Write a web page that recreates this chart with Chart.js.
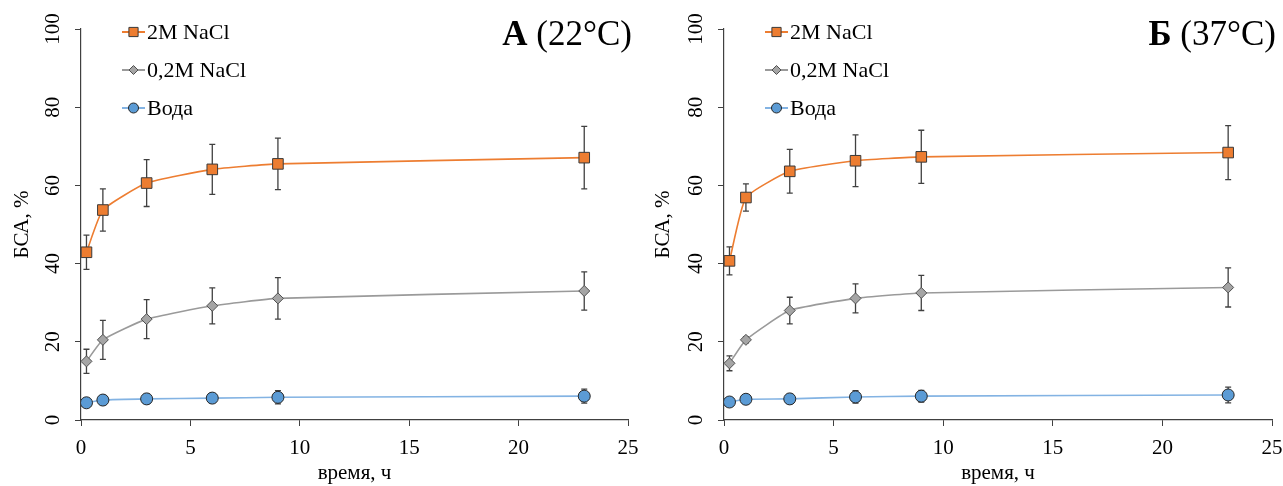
<!DOCTYPE html>
<html lang="ru">
<head>
<meta charset="utf-8">
<title>БСА, %</title>
<script src="https://cdn.jsdelivr.net/npm/chart.js@4.4.1/dist/chart.umd.min.js"></script>
<style>
	html, body { margin: 0; padding: 0; background: #fff; }
	.row { display: flex; width: 1283px; height: 486px; }
	canvas { display: block; }
</style>
</head>
<body>
<div class="row">
	<canvas id="chart_a" width="641" height="486"></canvas>
	<canvas id="chart_b" width="642" height="486"></canvas>
</div>
<script>
// time points, h
const hours = [0.25, 1, 3, 6, 9, 23];
const seriesNames = ['2M NaCl', '0,2M NaCl', 'Вода'];

// А (22°C): mean and error
const salt2A = [42.9, 53.7, 60.6, 64.1, 65.5, 67.1];
const salt2AErr = [4.4, 5.4, 6.0, 6.4, 6.6, 8.0];
const salt02A = [15.0, 20.5, 25.8, 29.2, 31.1, 33.0];
const salt02AErr = [3.1, 5.0, 5.0, 4.6, 5.3, 4.9];
const waterA = [4.4, 5.1, 5.4, 5.6, 5.8, 6.1];
const waterAErr = [1.0, 1.2, 1.2, 1.2, 1.7, 1.8];

// Б (37°C)
const salt2B = [40.7, 56.9, 63.6, 66.3, 67.3, 68.4];
const salt2BErr = [3.6, 3.5, 5.6, 6.6, 6.8, 6.9];
const salt02B = [14.5, 20.5, 28.0, 31.1, 32.5, 33.9];
const salt02BErr = [1.9, 0.8, 3.4, 3.7, 4.5, 5.0];
const waterB = [4.6, 5.3, 5.4, 5.9, 6.1, 6.4];
const waterBErr = [1.0, 1.2, 1.2, 1.6, 1.5, 2.0];

const FONT = '"Liberation Serif", "Times New Roman", serif';
const AXIS_COLOR = '#404040';

Chart.defaults.font.family = FONT;
Chart.defaults.color = '#000';

const styles = [
	{ line: '#ED7D31', fill: '#ED7D31', border: '#3a3a3a', pointStyle: 'rect', radius: 7.5, legendRadius: 6.5 },
	{ line: '#9a9a9a', fill: '#A5A5A5', border: '#505050', pointStyle: 'rectRot', radius: 5.5, legendRadius: 4.5 },
	{ line: '#83B3E3', fill: '#5B9BD5', border: '#262626', pointStyle: 'circle', radius: 6, legendRadius: 5 },
];

function makeDataset(name, values, errors, style) {
	return {
		label: name,
		data: hours.map((h, i) => ({ x: h, y: values[i] })),
		errors,
		borderColor: style.line,
		borderWidth: 1.6,
		tension: 0.15,
		pointStyle: style.pointStyle,
		pointRadius: style.radius,
		pointBackgroundColor: style.fill,
		pointBorderColor: style.border,
		pointBorderWidth: 1,
		legendRadius: style.legendRadius,
	};
}

// vertical error bars with caps, under the markers
const errorBars = {
	id: 'errorBars',
	beforeDatasetsDraw(chart) {
		const { ctx } = chart;
		const yScale = chart.scales.y;
		ctx.save();
		ctx.strokeStyle = AXIS_COLOR;
		ctx.lineWidth = 1.3;
		chart.data.datasets.forEach((ds, i) => {
			const meta = chart.getDatasetMeta(i);
			meta.data.forEach((pt, j) => {
				const v = ds.data[j].y;
				const e = ds.errors[j];
				const top = yScale.getPixelForValue(v + e);
				const bot = yScale.getPixelForValue(v - e);
				ctx.beginPath();
				ctx.moveTo(pt.x, top);
				ctx.lineTo(pt.x, bot);
				ctx.moveTo(pt.x - 3, top);
				ctx.lineTo(pt.x + 3, top);
				ctx.moveTo(pt.x - 3, bot);
				ctx.lineTo(pt.x + 3, bot);
				ctx.stroke();
			});
		});
		ctx.restore();
	}
};

// legend in the upper left corner and panel caption in the upper right
const panelDecor = {
	id: 'panelDecor',
	afterDraw(chart, args, opts) {
		const { ctx, chartArea } = chart;
		ctx.save();

		chart.data.datasets.forEach((ds, i) => {
			const y = chartArea.top + 3 + 38 * i;
			const x0 = chartArea.left + 41;
			ctx.strokeStyle = ds.borderColor;
			ctx.lineWidth = 2;
			ctx.beginPath();
			ctx.moveTo(x0, y);
			ctx.lineTo(x0 + 23, y);
			ctx.stroke();

			ctx.fillStyle = ds.pointBackgroundColor;
			ctx.strokeStyle = ds.pointBorderColor;
			ctx.lineWidth = 1;
			Chart.helpers.drawPoint(ctx, {
				pointStyle: ds.pointStyle,
				radius: ds.legendRadius,
				rotation: 0,
				borderWidth: 1,
			}, x0 + 11.5, y);

			ctx.fillStyle = '#000';
			ctx.font = `22px ${FONT}`;
			ctx.textAlign = 'left';
			ctx.textBaseline = 'middle';
			ctx.fillText(ds.label, x0 + 25, y + 1);
		});

		const right = chartArea.right + 4;
		const baseY = chartArea.top + 16;
		ctx.textBaseline = 'alphabetic';
		ctx.textAlign = 'left';
		ctx.font = `35px ${FONT}`;
		const restW = ctx.measureText(opts.rest).width;
		ctx.font = `bold 35px ${FONT}`;
		const letterW = ctx.measureText(opts.letter).width;
		const startX = right - restW - letterW;
		ctx.fillText(opts.letter, startX, baseY);
		ctx.font = `35px ${FONT}`;
		ctx.fillText(opts.rest, startX + letterW, baseY);

		ctx.restore();
	}
};

function buildChart(canvasId, series, caption, yWidth, padRight) {
	const datasets = series.map((s, i) => makeDataset(seriesNames[i], s[0], s[1], styles[i]));

	return new Chart(document.getElementById(canvasId), {
		type: 'line',
		data: { datasets },
		plugins: [errorBars, panelDecor],
		options: {
			responsive: false,
			animation: false,
			events: [],
			layout: { padding: { left: 0, right: padRight, top: 29, bottom: 0 } },
			plugins: {
				legend: { display: false },
				tooltip: { enabled: false },
				panelDecor: caption,
			},
			scales: {
				x: {
					type: 'linear',
					min: 0,
					max: 25,
					ticks: { stepSize: 5, padding: 10, font: { size: 21 }, color: '#000' },
					grid: { drawOnChartArea: false, drawTicks: true, tickLength: 6, color: AXIS_COLOR },
					border: { color: AXIS_COLOR, width: 1.2 },
					title: { display: true, text: 'время, ч', font: { size: 21 }, color: '#000', padding: { top: 0, bottom: 0 } },
					afterFit(scale) {
						scale.height = 66;
						scale.paddingLeft = 0;
						scale.paddingRight = 0;
					},
				},
				y: {
					min: 0,
					max: 100,
					ticks: {
						stepSize: 20,
						padding: 6,
						minRotation: 90,
						maxRotation: 90,
						crossAlign: 'center',
						font: { size: 21 },
						color: '#000',
					},
					grid: { drawOnChartArea: false, drawTicks: true, tickLength: 6, color: AXIS_COLOR },
					border: { color: AXIS_COLOR, width: 1.2 },
					title: { display: true, text: 'БСА, %', font: { size: 21 }, color: '#000', padding: { top: 10, bottom: 0 } },
					afterFit(scale) {
						scale.width = yWidth;
						scale.paddingTop = 0;
						scale.paddingBottom = 0;
					},
				},
			},
		},
	});
}

buildChart('chart_a', [
	[salt2A, salt2AErr],
	[salt02A, salt02AErr],
	[waterA, waterAErr],
], { letter: 'А', rest: ' (22°C)' }, 81, 13);

buildChart('chart_b', [
	[salt2B, salt2BErr],
	[salt02B, salt02BErr],
	[waterB, waterBErr],
], { letter: 'Б', rest: ' (37°C)' }, 83, 11);
</script>
</body>
</html>
